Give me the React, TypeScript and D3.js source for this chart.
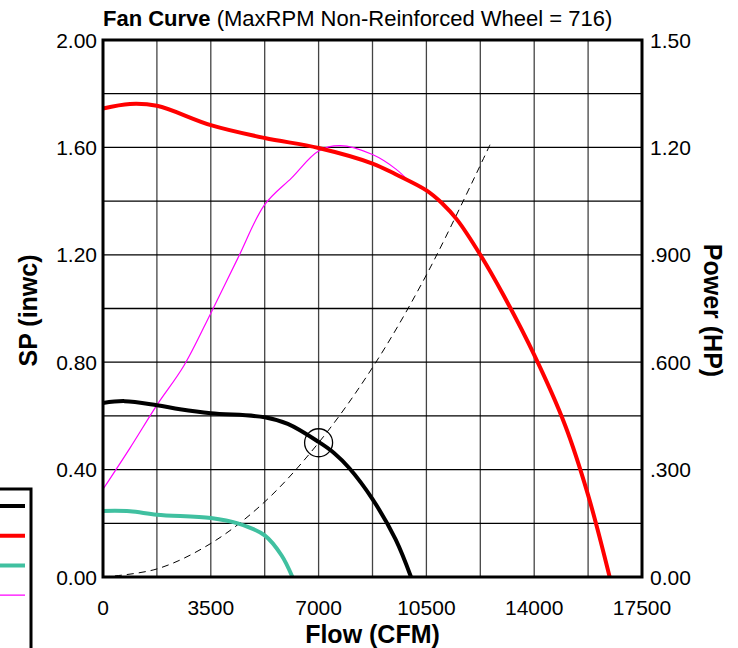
import React from 'react';
import * as d3 from 'd3';

// flow (CFM) vs static pressure (inwc) / power (HP)
const redFlow = [0, 875, 1750, 3500, 5250, 7000, 8750, 9500, 10500, 11000, 11500, 12250, 13000, 14000, 15000, 15750, 16450];
const redSP = [1.745, 1.762, 1.755, 1.683, 1.635, 1.598, 1.54, 1.5, 1.44, 1.393, 1.33, 1.2, 1.05, 0.827, 0.566, 0.305, 0];

const blackFlow = [0, 700, 1750, 2500, 3500, 5250, 6000, 7000, 7500, 8000, 8750, 9500, 10000];
const blackSP = [0.648, 0.655, 0.64, 0.625, 0.61, 0.595, 0.57, 0.503, 0.462, 0.405, 0.29, 0.14, 0];

const tealFlow = [0, 875, 1750, 3500, 4375, 5250, 5800, 6150];
const tealSP = [0.246, 0.245, 0.232, 0.22, 0.2, 0.155, 0.08, 0];

const powerFlow = [0, 875, 1750, 2625, 3500, 4375, 5250, 6125, 7000, 7700, 8750, 9500, 10000];
const powerHP = [0.245, 0.36, 0.48, 0.59, 0.737, 0.89, 1.04, 1.115, 1.19, 1.205, 1.18, 1.14, 1.1];

const systemFlow = [0, 1750, 3500, 5250, 7000, 8750, 10500, 12565];
const systemSP = [0, 0.03, 0.125, 0.28, 0.5, 0.78, 1.125, 1.61];

const opFlow = 7000;
const opSP = 0.5;

const flowTicks = [0, 3500, 7000, 10500, 14000, 17500];
const spTicks = [0, 0.4, 0.8, 1.2, 1.6, 2.0];
const hpTicks = [0, 0.3, 0.6, 0.9, 1.2, 1.5];
const hpLabels = ['0.00', '.300', '.600', '.900', '1.20', '1.50'];

const legendColors = ['#000000', '#ff0000', '#40c0a0', '#ff00ff'];

const font = 'Arial, "Liberation Sans", sans-serif';

export default function App() {
  const left = 103, right = 642, top = 40, bottom = 577;
  const x = d3.scaleLinear().domain([0, 17500]).range([left, right]);
  const y = d3.scaleLinear().domain([0, 2]).range([bottom, top]);
  const yHP = d3.scaleLinear().domain([0, 1.5]).range([bottom, top]);

  const spLine = d3.line<[number, number]>().x(d => x(d[0])).y(d => y(d[1])).curve(d3.curveCatmullRom.alpha(0.5));
  const hpLine = d3.line<[number, number]>().x(d => x(d[0])).y(d => yHP(d[1])).curve(d3.curveCatmullRom.alpha(0.5));
  const zip = (a: number[], b: number[]) => a.map((v, i) => [v, b[i]] as [number, number]);

  const vGrid = d3.range(0, 17501, 1750);
  const hGrid = d3.range(0, 2.0001, 0.2);

  return (
    <svg width={738} height={648} style={{ position: 'absolute', left: 0, top: 0, background: '#fff' }} fontFamily={font}>
      {/* grid */}
      {vGrid.map(v => (
        <line key={'v' + v} x1={x(v)} x2={x(v)} y1={top} y2={bottom} stroke="#444" strokeWidth={1.3} />
      ))}
      {hGrid.map(v => (
        <line key={'h' + v} x1={left} x2={right} y1={y(v)} y2={y(v)} stroke="#000" strokeWidth={1.3} />
      ))}

      {/* curves */}
      <path d={spLine(zip(systemFlow, systemSP)) || ''} fill="none" stroke="#000" strokeWidth={1} strokeDasharray="7,5" />
      <path d={hpLine(zip(powerFlow, powerHP)) || ''} fill="none" stroke="#ff00ff" strokeWidth={1.2} />
      <path d={spLine(zip(tealFlow, tealSP)) || ''} fill="none" stroke="#40c0a0" strokeWidth={4} />
      <path d={spLine(zip(blackFlow, blackSP)) || ''} fill="none" stroke="#000" strokeWidth={4} />
      <path d={spLine(zip(redFlow, redSP)) || ''} fill="none" stroke="#ff0000" strokeWidth={4} />
      <circle cx={x(opFlow)} cy={y(opSP)} r={14} fill="none" stroke="#000" strokeWidth={1.3} />

      {/* frame */}
      <rect x={left} y={top} width={right - left} height={bottom - top} fill="none" stroke="#000" strokeWidth={3} />

      {/* ticks */}
      {spTicks.map(v => (
        <text key={'l' + v} x={97} y={y(v)} dy="0.36em" textAnchor="end" fontSize={21}>{v.toFixed(2)}</text>
      ))}
      {hpTicks.map((v, i) => (
        <text key={'r' + v} x={650} y={yHP(v)} dy="0.36em" textAnchor="start" fontSize={21}>{hpLabels[i]}</text>
      ))}
      {flowTicks.map(v => (
        <text key={'b' + v} x={x(v)} y={615} textAnchor="middle" fontSize={21}>{v}</text>
      ))}

      {/* titles */}
      <text x={103} y={26} fontSize={22}>
        <tspan fontWeight="bold">Fan Curve</tspan> (MaxRPM Non-Reinforced Wheel = 716)
      </text>
      <text x={(left + right) / 2} y={643} textAnchor="middle" fontSize={25} fontWeight="bold">Flow (CFM)</text>
      <text transform={`translate(37,${(top + bottom) / 2 + 2}) rotate(-90)`} textAnchor="middle" fontSize={25} fontWeight="bold">SP (inwc)</text>
      <text transform={`translate(704,${(top + bottom) / 2 + 2}) rotate(90)`} textAnchor="middle" fontSize={25} fontWeight="bold">Power (HP)</text>

      {/* legend (mostly off-canvas) */}
      <rect x={-120} y={489} width={151} height={220} fill="#fff" stroke="#000" strokeWidth={3} />
      {legendColors.map((c, i) => (
        <line key={c} x1={-10} x2={25} y1={506 + i * 29.7} y2={506 + i * 29.7} stroke={c} strokeWidth={i === 3 ? 1.2 : 4} />
      ))}
    </svg>
  );
}
